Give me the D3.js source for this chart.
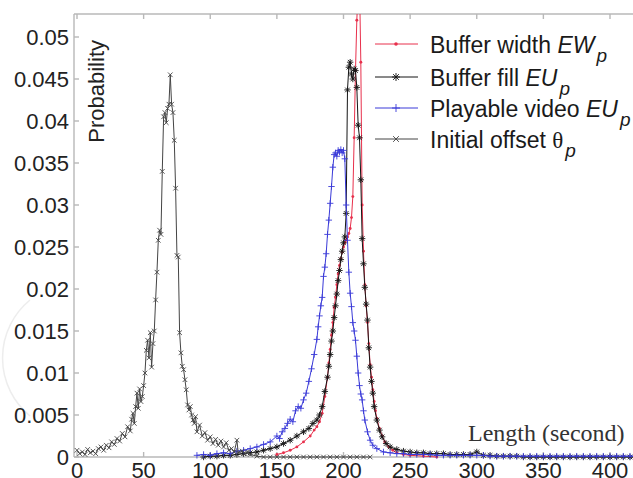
<!DOCTYPE html>
<html>
<head>
<meta charset="utf-8">
<script src="https://cdn.jsdelivr.net/npm/d3@7"></script>
<style>
  body { margin: 0; background: #fff; }
  svg { display: block; }
</style>
</head>
<body>
<div id="chart"></div>
<script>
// axis ticks
var xTicks = [0, 50, 100, 150, 200, 250, 300, 350, 400];
var yTicks = [0, 0.005, 0.01, 0.015, 0.02, 0.025, 0.03, 0.035, 0.04, 0.045, 0.05];
var yTickLabels = ["0", "0.005", "0.01", "0.015", "0.02", "0.025", "0.03", "0.035", "0.04", "0.045", "0.05"];

// [length (s), probability]
var bufferWidth = [
  [150, 0.0003], [155, 0.0005], [160, 0.0008], [165, 0.0012], [170, 0.0018], [175, 0.0025],
  [178, 0.0032], [180, 0.0036], [182, 0.0042], [184, 0.0052], [186, 0.0072], [188, 0.0095],
  [189, 0.0112], [190, 0.0128], [191, 0.0145], [192, 0.0160], [193, 0.0178], [194, 0.0190],
  [195, 0.0205], [196, 0.0218], [197, 0.0228], [198, 0.0236], [199, 0.0244], [200, 0.0250],
  [201, 0.0255], [202, 0.0258], [203, 0.0262], [204, 0.0266], [205, 0.0272], [206, 0.0285],
  [207, 0.0310], [208, 0.0380], [209, 0.0460], [210, 0.0520], [211, 0.0560], [212, 0.0565],
  [213, 0.0470], [214, 0.0300], [215, 0.0245], [216, 0.0205], [217, 0.0180], [218, 0.0160],
  [219, 0.0135], [220, 0.0110], [221, 0.0095], [222, 0.0080], [223, 0.0066], [224, 0.0055],
  [225, 0.0046], [227, 0.0034], [229, 0.0025], [231, 0.0018], [234, 0.0012], [237, 0.0008],
  [240, 0.0005], [245, 0.0003], [250, 0.0002], [260, 0.0001], [270, 0]
];
var bufferFill = [
  [95, 0], [100, 0.0001], [105, 0.0001], [110, 0.0002], [115, 0.0002], [120, 0.0003],
  [125, 0.0004], [130, 0.0005], [135, 0.0006], [140, 0.0008], [145, 0.0010], [150, 0.0012],
  [155, 0.0016], [160, 0.0020], [165, 0.0025], [170, 0.0030], [174, 0.0034], [177, 0.0040],
  [180, 0.0044], [182, 0.0050], [184, 0.0060], [186, 0.0078], [188, 0.0095], [189, 0.0108],
  [190, 0.0122], [191, 0.0138], [192, 0.0150], [193, 0.0166], [194, 0.0180], [195, 0.0194],
  [196, 0.0210], [197, 0.0222], [198, 0.0235], [199, 0.0245], [200, 0.0255], [201, 0.0262],
  [202, 0.0290], [203, 0.0437], [204, 0.0464], [205, 0.0470], [206, 0.0456], [207, 0.0450],
  [208, 0.0462], [209, 0.0460], [210, 0.0440], [211, 0.0395], [212, 0.0380], [213, 0.0330],
  [214, 0.0260], [215, 0.0230], [216, 0.0202], [217, 0.0182], [218, 0.0163], [219, 0.0130],
  [220, 0.0107], [221, 0.0090], [222, 0.0076], [223, 0.0060], [225, 0.0044], [227, 0.0032],
  [229, 0.0024], [232, 0.0016], [235, 0.0012], [240, 0.0009], [245, 0.0007], [250, 0.0006],
  [255, 0.0005], [260, 0.0005], [265, 0.0004], [270, 0.0004], [275, 0.0004], [280, 0.0003],
  [285, 0.0003], [290, 0.0003], [295, 0.0003], [300, 0.0006], [305, 0.0002], [310, 0.0002],
  [315, 0.0001], [320, 0.0001], [325, 0.0001], [330, 0.0001], [335, 0], [340, 0], [345, 0],
  [350, 0], [355, 0], [360, 0], [365, 0], [370, 0], [375, 0], [380, 0], [385, 0], [390, 0],
  [395, 0], [400, 0], [405, 0], [410, 0], [415, 0], [420, 0], [425, 0], [430, 0]
];
var playable = [
  [90, 0.0002], [95, 0.0003], [100, 0.0002], [105, 0.0004], [110, 0.0005], [115, 0.0004],
  [120, 0.0007], [125, 0.0008], [130, 0.0010], [135, 0.0012], [140, 0.0015], [145, 0.0018],
  [150, 0.0025], [152, 0.0022], [154, 0.0030], [156, 0.0034], [158, 0.0040], [160, 0.0045],
  [162, 0.0042], [164, 0.0055], [166, 0.0060], [168, 0.0058], [170, 0.0068], [172, 0.0076],
  [174, 0.0090], [176, 0.0105], [178, 0.0122], [180, 0.0140], [181, 0.0155], [182, 0.0168],
  [183, 0.0180], [184, 0.0190], [185, 0.0215], [186, 0.0226], [187, 0.0242], [188, 0.0265],
  [189, 0.0282], [190, 0.0302], [191, 0.0322], [192, 0.0345], [193, 0.0360], [194, 0.0362],
  [195, 0.0358], [196, 0.0365], [197, 0.0363], [198, 0.0366], [199, 0.0362], [200, 0.0365],
  [201, 0.0355], [202, 0.0300], [203, 0.0258], [204, 0.0220], [205, 0.0195], [206, 0.0179],
  [207, 0.0160], [208, 0.0150], [209, 0.0139], [210, 0.0120], [211, 0.0100], [212, 0.0085],
  [213, 0.0075], [214, 0.0068], [215, 0.0055], [216, 0.0044], [218, 0.0030], [220, 0.0020],
  [222, 0.0014], [225, 0.0010], [230, 0.0006], [235, 0.0005], [240, 0.0004], [245, 0.0004],
  [250, 0.0003], [255, 0.0003], [260, 0.0003], [265, 0.0003], [270, 0.0002], [275, 0.0002],
  [280, 0.0002], [285, 0.0002], [290, 0.0002], [295, 0.0002], [300, 0.0002], [305, 0.0002],
  [310, 0.0001], [315, 0.0001], [320, 0.0001], [325, 0.0001], [330, 0.0001], [335, 0.0001],
  [340, 0.0001], [345, 0.0001], [350, 0.0001], [355, 0.0001], [360, 0.0001], [365, 0.0001],
  [370, 0.0001], [375, 0.0001], [380, 0.0001], [385, 0.0001], [390, 0.0001], [395, 0.0001],
  [400, 0.0001], [405, 0.0001], [410, 0.0001], [415, 0.0001], [420, 0.0001], [425, 0.0001],
  [430, 0.0001]
];
var initialOffset = [
  [0, 0.0008], [2, 0.0004], [4, 0.0006], [6, 0.0003], [8, 0.0009], [10, 0.0005], [12, 0.0007],
  [14, 0.0004], [16, 0.0010], [18, 0.0012], [20, 0.0008], [22, 0.0014], [24, 0.0011],
  [26, 0.0018], [28, 0.0015], [30, 0.0022], [32, 0.0019], [34, 0.0028], [36, 0.0024],
  [38, 0.0036], [40, 0.0031], [41, 0.0045], [42, 0.0052], [43, 0.0040], [44, 0.0060],
  [45, 0.0076], [46, 0.0058], [47, 0.0081], [48, 0.0066], [49, 0.0072], [50, 0.0085],
  [51, 0.0100], [52, 0.0127], [53, 0.0139], [54, 0.0118], [55, 0.0148], [56, 0.0107],
  [57, 0.0135], [58, 0.0150], [59, 0.0187], [60, 0.0220], [61, 0.0258], [62, 0.0270],
  [63, 0.0265], [64, 0.0340], [65, 0.0405], [66, 0.0410], [67, 0.0398], [68, 0.0415],
  [69, 0.0420], [70, 0.0455], [71, 0.0420], [72, 0.0410], [73, 0.0377], [74, 0.0320],
  [75, 0.0240], [76, 0.0238], [77, 0.0148], [78, 0.0124], [79, 0.0108], [80, 0.0104],
  [81, 0.0092], [82, 0.0080], [83, 0.0062], [84, 0.0056], [85, 0.0060], [86, 0.0050],
  [87, 0.0044], [88, 0.0040], [89, 0.0048], [90, 0.0030], [92, 0.0038], [94, 0.0025],
  [96, 0.0029], [98, 0.0020], [100, 0.0024], [102, 0.0016], [104, 0.0021], [106, 0.0014],
  [108, 0.0019], [110, 0.0012], [112, 0.0017], [114, 0.0008], [116, 0.0010], [118, 0.0006],
  [120, 0.0020], [121, 0.0005], [124, 0.0007], [126, 0.0004], [128, 0.0006], [130, 0.0003],
  [135, 0.0001], [140, 0], [145, 0], [150, 0], [155, 0], [160, 0], [165, 0], [170, 0],
  [175, 0], [180, 0], [185, 0], [190, 0], [195, 0], [200, 0], [205, 0], [210, 0], [215, 0],
  [220, 0]
];

var series = [
  { name: "Buffer width ", em: "EW", data: bufferWidth, color: "#e8304c", mark: "dot" },
  { name: "Buffer fill ", em: "EU", data: bufferFill, color: "#151515", mark: "star" },
  { name: "Playable video ", em: "EU", data: playable, color: "#3a3ad8", mark: "plus" },
  { name: "Initial offset ", em: "\u03b8", data: initialOffset, color: "#444", mark: "cross" }
];

var width = 633, height = 478;
var svg = d3.select("#chart").append("svg")
  .attr("width", width)
  .attr("height", height)
  .style("font-family", "Arial, 'Liberation Sans', sans-serif");

var x = d3.scaleLinear().domain([0, 400]).range([77, 610]);
var y = d3.scaleLinear().domain([0, 0.05]).range([457, 37]);
var boxLeft = 74, boxTop = 14, boxBottom = 457;

// faint circle left over from the scan
svg.append("path")
  .attr("d", "M 30 300 A 75 75 0 0 0 30 416")
  .attr("fill", "none")
  .attr("stroke", "#ededed")
  .attr("stroke-width", 1.5);

// frame
var frame = svg.append("g").attr("stroke", "#b8b8b8").attr("stroke-width", 1.4).attr("fill", "none");
frame.append("line").attr("x1", boxLeft).attr("x2", width).attr("y1", boxTop).attr("y2", boxTop);
frame.append("line").attr("x1", boxLeft).attr("x2", boxLeft).attr("y1", boxTop).attr("y2", boxBottom);
frame.append("line").attr("x1", boxLeft).attr("x2", width).attr("y1", boxBottom).attr("y2", boxBottom);

// ticks
frame.selectAll(".tt").data(xTicks).enter().append("line")
  .attr("x1", d => x(d)).attr("x2", d => x(d)).attr("y1", boxTop).attr("y2", boxTop + 5);
frame.selectAll(".bt").data(xTicks).enter().append("line")
  .attr("x1", d => x(d)).attr("x2", d => x(d)).attr("y1", boxBottom).attr("y2", boxBottom - 5);
frame.selectAll(".lt").data(yTicks).enter().append("line")
  .attr("x1", boxLeft).attr("x2", boxLeft + 5).attr("y1", d => y(d)).attr("y2", d => y(d));

svg.append("g").selectAll("text").data(yTicks).enter().append("text")
  .attr("x", 69)
  .attr("y", d => y(d))
  .attr("dy", "0.36em")
  .attr("text-anchor", "end")
  .attr("font-size", 22)
  .attr("fill", "#222")
  .text((d, i) => yTickLabels[i]);

svg.append("g").selectAll("text").data(xTicks).enter().append("text")
  .attr("x", d => x(d))
  .attr("y", 478)
  .attr("text-anchor", "middle")
  .attr("font-size", 22)
  .attr("fill", "#222")
  .text(d => d);

// axis titles
svg.append("text")
  .attr("transform", "translate(104,40) rotate(-90)")
  .attr("text-anchor", "end")
  .attr("font-size", 22)
  .attr("fill", "#222")
  .text("Probability");

svg.append("text")
  .attr("x", 468)
  .attr("y", 441)
  .attr("font-family", "'Liberation Serif', 'Times New Roman', serif")
  .attr("font-size", 24)
  .attr("fill", "#333")
  .text("Length (second)");

// markers
function marker(g, type, cx, cy, color, s) {
  if (type == "dot") {
    g.append("circle").attr("cx", cx).attr("cy", cy).attr("r", s * 0.45).attr("fill", color);
    return;
  }
  var segs = [];
  if (type == "plus" || type == "star") segs.push([-s, 0, s, 0], [0, -s, 0, s]);
  if (type == "cross" || type == "star") {
    var k = s * 0.72;
    segs.push([-k, -k, k, k], [-k, k, k, -k]);
  }
  segs.forEach(function(p) {
    g.append("line")
      .attr("x1", cx + p[0]).attr("y1", cy + p[1])
      .attr("x2", cx + p[2]).attr("y2", cy + p[3])
      .attr("stroke", color).attr("stroke-width", 0.9);
  });
}

// clip to the axes box
svg.append("clipPath").attr("id", "box")
  .append("rect").attr("x", boxLeft).attr("y", boxTop).attr("width", width - boxLeft).attr("height", height - boxTop);

var plot = svg.append("g").attr("clip-path", "url(#box)");
var line = d3.line().x(d => x(d[0])).y(d => y(d[1]));

series.forEach(function(s) {
  var g = plot.append("g");
  g.append("path")
    .attr("d", line(s.data))
    .attr("fill", "none")
    .attr("stroke", s.color)
    .attr("stroke-width", 1);
  s.data.forEach(function(d) {
    marker(g, s.mark, x(d[0]), y(d[1]), s.color, 3.2);
  });
});

// legend
var rows = [44, 77, 108, 139];
var legend = svg.append("g");
series.forEach(function(s, i) {
  var ly = rows[i];
  legend.append("line")
    .attr("x1", 375).attr("x2", 418).attr("y1", ly).attr("y2", ly)
    .attr("stroke", s.color).attr("stroke-width", 1);
  marker(legend, s.mark, 396, ly, s.color, 4);
  var t = legend.append("text")
    .attr("x", 430)
    .attr("y", ly + 9)
    .attr("font-size", 23)
    .attr("fill", "#1a1a1a");
  t.append("tspan").text(s.name);
  t.append("tspan")
    .attr("font-style", s.em == "\u03b8" ? "normal" : "italic")
    .attr("font-family", s.em == "\u03b8" ? "'Liberation Serif', serif" : null)
    .text(s.em);
  t.append("tspan")
    .attr("dx", 2)
    .attr("dy", 9)
    .attr("font-style", "italic")
    .attr("font-size", 19)
    .text("p");
});
</script>
</body>
</html>
